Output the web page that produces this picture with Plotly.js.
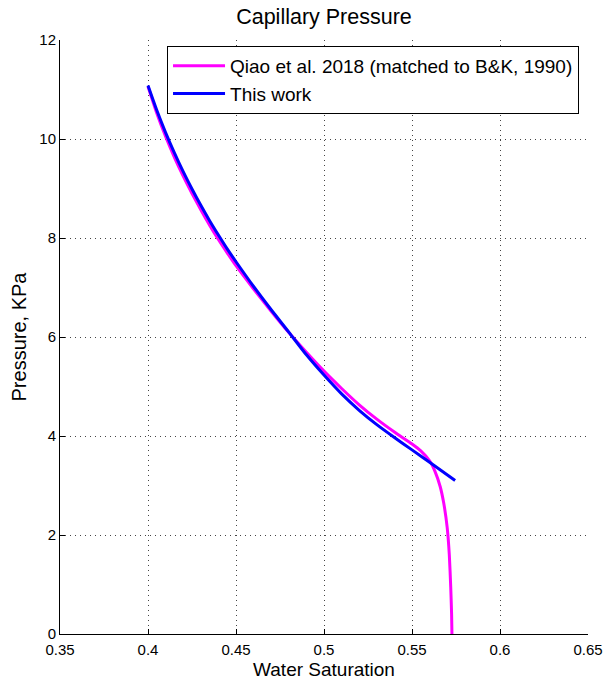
<!DOCTYPE html>
<html>
<head>
<meta charset="utf-8">
<script src="https://cdn.plot.ly/plotly-3.0.1.min.js"></script>
<style>html,body{margin:0;padding:0;background:#fff;}</style>
</head>
<body>
<div id="chart" style="width:603px;height:686px;"></div>
<script>
// Qiao et al. 2018 (matched to B&K, 1990)
const qiaoSw = [0.400, 0.405, 0.410, 0.415, 0.420, 0.425, 0.430, 0.435, 0.440, 0.445, 0.450, 0.460, 0.470, 0.480, 0.490, 0.500, 0.510, 0.520, 0.530, 0.540, 0.550, 0.555, 0.560, 0.563, 0.566, 0.568, 0.570, 0.5712, 0.5720, 0.5725, 0.5727];
const qiaoP  = [11.06, 10.52, 10.05, 9.63, 9.25, 8.90, 8.57, 8.26, 7.97, 7.70, 7.44, 6.97, 6.52, 6.09, 5.69, 5.31, 4.96, 4.63, 4.34, 4.08, 3.84, 3.70, 3.50, 3.29, 2.98, 2.65, 2.15, 1.60, 0.95, 0.40, 0.00];
// This work
const workSw = [0.400, 0.405, 0.410, 0.415, 0.420, 0.425, 0.430, 0.435, 0.440, 0.445, 0.450, 0.460, 0.470, 0.480, 0.490, 0.500, 0.510, 0.520, 0.530, 0.540, 0.550, 0.560, 0.5745];
const workP  = [11.08, 10.58, 10.13, 9.72, 9.34, 8.99, 8.66, 8.35, 8.06, 7.78, 7.52, 7.02, 6.55, 6.10, 5.64, 5.23, 4.85, 4.52, 4.23, 3.97, 3.72, 3.47, 3.10];

const xTicks = [0.35, 0.4, 0.45, 0.5, 0.55, 0.6, 0.65];
const xTickText = ['0.35', '0.4', '0.45', '0.5', '0.55', '0.6', '0.65'];
const yTicks = [0, 2, 4, 6, 8, 10, 12];

const FONT = '"Liberation Sans", Arial, Helvetica, sans-serif';

const traces = [
  {x: qiaoSw, y: qiaoP, mode: 'lines', name: 'Qiao et al. 2018 (matched to B&K, 1990)',
   line: {color: '#ff00ff', width: 3, shape: 'spline', smoothing: 0.6}},
  {x: workSw, y: workP, mode: 'lines', name: 'This work',
   line: {color: '#0000ff', width: 3, shape: 'spline', smoothing: 0.8}}
];

const axisCommon = {
  showline: true, linecolor: '#000', linewidth: 1,
  ticks: 'inside', ticklen: 5, tickcolor: '#000', tickwidth: 1,
  showgrid: true, gridcolor: '#444', gridwidth: 1, griddash: '1px,4px',
  zeroline: false, mirror: false,
  tickfont: {family: FONT, size: 15, color: '#000'}
};

const layout = {
  width: 603, height: 686,
  margin: {l: 60, r: 15, t: 40, b: 52},
  paper_bgcolor: '#fff', plot_bgcolor: '#fff',
  font: {family: FONT, color: '#000'},
  title: {text: 'Capillary Pressure', font: {family: FONT, size: 21.5, color: '#000'},
          x: 0.5, xref: 'paper', xanchor: 'center', y: 0.976, yref: 'container', yanchor: 'middle'},
  xaxis: Object.assign({}, axisCommon, {
    range: [0.35, 0.65], tickmode: 'array', tickvals: xTicks, ticktext: xTickText,
    ticklabelstandoff: 2,
    title: {text: 'Water Saturation', font: {family: FONT, size: 19, color: '#000'}, standoff: 5}
  }),
  yaxis: Object.assign({}, axisCommon, {
    range: [0, 12], tickmode: 'array', tickvals: yTicks,
    title: {text: 'Pressure, KPa', font: {family: FONT, size: 20, color: '#000'}, standoff: 7}
  }),
  showlegend: true,
  legend: {x: 0.2027, y: 0.99, xanchor: 'left', yanchor: 'top',
           bgcolor: '#fff', bordercolor: '#000', borderwidth: 1,
           font: {family: FONT, size: 19, color: '#000'},
           itemwidth: 52, tracegroupgap: 0}
};

Plotly.newPlot('chart', traces, layout, {displayModeBar: false, staticPlot: true});
</script>
</body>
</html>
